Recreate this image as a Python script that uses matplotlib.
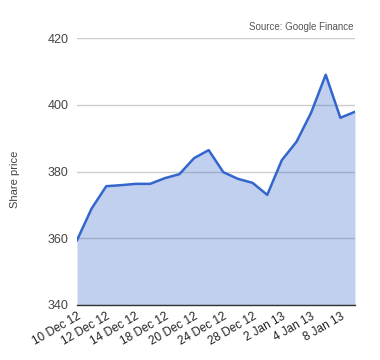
import matplotlib
matplotlib.use("Agg")
import matplotlib.pyplot as plt

# trading days shown on the category axis (every other one is labelled)
dates = ['10 Dec 12', '11 Dec 12', '12 Dec 12', '13 Dec 12', '14 Dec 12',
         '17 Dec 12', '18 Dec 12', '19 Dec 12', '20 Dec 12', '21 Dec 12',
         '24 Dec 12', '27 Dec 12', '28 Dec 12', '31 Dec 12', '2 Jan 13',
         '3 Jan 13', '4 Jan 13', '7 Jan 13', '8 Jan 13', '9 Jan 13']
price = [359.4, 368.9, 375.6, 375.9, 376.3,
         376.3, 378.0, 379.2, 384.0, 386.4,
         379.8, 377.8, 376.6, 373.0, 383.4,
         388.9, 397.6, 409.0, 396.1, 397.9]
yticks = [340, 360, 380, 400, 420]

plt.rcParams['font.family'] = ['Liberation Sans', 'DejaVu Sans']

fig = plt.figure(figsize=(3.8, 3.6), dpi=100)
ax = fig.add_axes([0.2026, 0.1528, 0.7316, 0.7416])

x = list(range(len(dates)))
ax.fill_between(x, price, 340, color='#3366cc', alpha=0.3, linewidth=0)
ax.plot(x, price, color='#3366cc', linewidth=1.8)

ax.set_xlim(0, len(dates) - 1)
ax.set_ylim(340, 420)
ax.set_yticks(yticks)
ax.set_yticklabels([str(v) for v in yticks], color='#444444', fontsize=9)
ax.set_xticks(x[::2])
ax.set_xticklabels(dates[::2], rotation=30, ha='right', rotation_mode='anchor',
                   color='#222222', fontsize=8.5)
ax.tick_params(length=0, pad=6)
ax.tick_params(axis='x', pad=4)

ax.grid(axis='y', color='#cccccc', linewidth=1)
ax.set_axisbelow(True)
for s in ['top', 'right', 'left']:
    ax.spines[s].set_visible(False)
ax.spines['bottom'].set_color('#333333')
ax.spines['bottom'].set_linewidth(1)

ax.set_ylabel('Share price', color='#444444', fontsize=8)
ax.yaxis.set_label_coords(-0.204, 0.47)
fig.text(0.929, 0.925, 'Source: Google Finance', ha='right', va='center',
         color='#555555', fontsize=7)

fig.savefig('out.png', dpi=100)
